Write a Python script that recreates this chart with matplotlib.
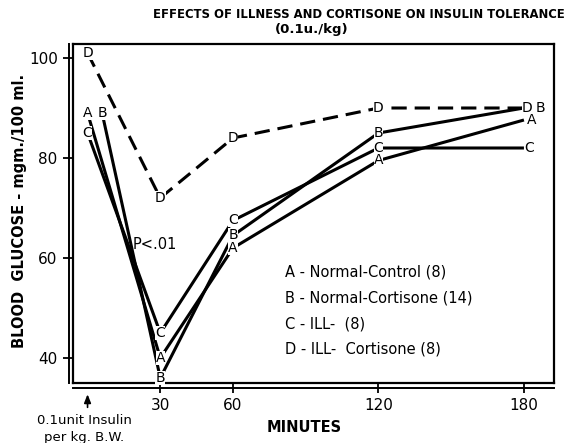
import matplotlib.pyplot as plt
from matplotlib.lines import Line2D

# values (blood glucose, mgm./100 ml.)
minutes = [0, 30, 60, 120, 180]
minutes_b = [6, 30, 60, 120, 180]
glucose_a = [89, 40, 62, 79.5, 87.6]
glucose_b = [89, 36, 64.5, 85, 90]
glucose_c = [85, 45, 67.5, 82, 82]
glucose_d = [101, 72, 84, 90, 90]

x_ticks = [30, 60, 120, 180]
y_ticks = [40, 60, 80, 100]

legend_lines = [
    "A - Normal-Control (8)",
    "B - Normal-Cortisone (14)",
    "C - ILL-  (8)",
    "D - ILL-  Cortisone (8)",
]

plt.rcParams['font.family'] = ['DejaVu Sans']

fig = plt.figure(figsize=(5.67, 4.43), dpi=100)
ax = fig.add_axes([73 / 567, 60 / 443, 481 / 567, 339 / 443])

# letter, x, y, dashed?, x shift (points) of the last label
series = [
    ("D", minutes, glucose_d, True, 2.5),
    ("C", minutes, glucose_c, False, 4),
    ("A", minutes, glucose_a, False, 5.5),
    ("B", minutes_b, glucose_b, False, 12),
]

for letter, xs, ys, dashed, end_shift in series:
    line, = ax.plot(xs, ys, color="black", lw=2.2, solid_capstyle="butt", zorder=2)
    if dashed:
        line.set_dashes((5, 2.6))
    for i, (x, y) in enumerate(zip(xs, ys)):
        dx = end_shift if i == len(xs) - 1 else 0
        ax.annotate(letter, (x, y), xytext=(dx, 0), textcoords="offset points",
                    ha="center", va="center", fontsize=10,
                    bbox=dict(boxstyle="square,pad=0.0", fc="white", ec="none"),
                    zorder=4)

ax.text(0.123, 0.41, "P<.01", transform=ax.transAxes, fontsize=10.5,
        ha="left", va="center")

for i, txt in enumerate(legend_lines):
    ax.text(0.44, 0.327 - i * 0.0758, txt, transform=ax.transAxes,
            fontsize=10.5, ha="left", va="center")

ax.set_xlim(-6, 192.4)
ax.set_ylim(35, 102.8)
ax.set_xticks(x_ticks)
ax.set_yticks(y_ticks)
ax.tick_params(axis="both", direction="out", length=7, width=1.3,
               labelsize=11, pad=4)
for sp in ax.spines.values():
    sp.set_linewidth(1.6)

# double rule on the left and bottom edges, as in the drawing
fig.add_artist(Line2D([69 / 567, 69 / 567], [60 / 443, 399 / 443],
                      color="black", lw=1.4))
fig.add_artist(Line2D([73 / 567, 554 / 567], [55 / 443, 55 / 443],
                      color="black", lw=1.4))

ax.set_ylabel("BLOOD  GLUCOSE - mgm./100 ml.", fontsize=10.5,
              fontweight="bold")
ax.yaxis.set_label_coords(-0.095, 0.508)

fig.text(304 / 567, 1 - 428 / 443, "MINUTES", fontsize=10.5,
         fontweight="bold", ha="center", va="center")
fig.text(359 / 567, 1 - 14 / 443,
         "EFFECTS OF ILLNESS AND CORTISONE ON INSULIN TOLERANCE",
         fontsize=8.4, fontweight="bold", ha="center", va="center")
fig.text(312 / 567, 1 - 30 / 443, "(0.1u./kg)", fontsize=9.5,
         fontweight="bold", ha="center", va="center")

# insulin injection marker at time zero
ax.annotate("", xy=(0, -0.025), xytext=(0, -0.08),
            xycoords=("data", "axes fraction"),
            textcoords=("data", "axes fraction"),
            arrowprops=dict(arrowstyle="-|>,head_length=0.5,head_width=0.2",
                            color="black", lw=1.2))
fig.text(84 / 567, 1 - 421 / 443, "0.1unit Insulin", fontsize=9.5,
         ha="center", va="center")
fig.text(84 / 567, 1 - 438 / 443, "per kg. B.W.", fontsize=9.5,
         ha="center", va="center")

fig.savefig("out.png", dpi=100)
